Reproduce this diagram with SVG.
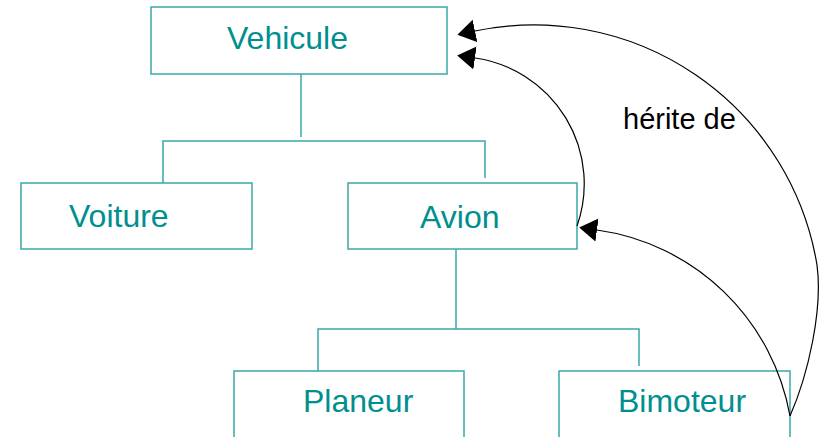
<svg xmlns="http://www.w3.org/2000/svg" width="825" height="437" viewBox="0 0 825 437">
  <style>
    .box { fill: #ffffff; stroke: #3aa8a8; stroke-width: 1.5; }
    .tree { fill: none; stroke: #3aa8a8; stroke-width: 1.5; }
    .label { font-family: "Liberation Sans", Arial, sans-serif; font-size: 32px; fill: #008f8f; }
    .inherit { fill: none; stroke: #000000; stroke-width: 1.2; marker-end: url(#arrow); }
    .note { font-family: "Liberation Sans", Arial, sans-serif; font-size: 29px; fill: #000000; }
  </style>
  <defs>
    <marker id="arrow" markerUnits="userSpaceOnUse" viewBox="0 -12 20 24" markerWidth="20" markerHeight="24" refX="0" refY="0" orient="auto">
      <path d="M0,-11.5 L18,0 L0,11.5 Z" fill="#000000"/>
    </marker>
  </defs>

  <rect width="825" height="437" fill="#ffffff"/>

  <g id="vehicule">
    <rect class="box" x="151" y="7" width="296" height="67"/>
    <text class="label" x="227" y="49">Vehicule</text>
  </g>

  <g id="voiture">
    <rect class="box" x="21" y="183" width="231" height="66"/>
    <text class="label" x="69" y="227">Voiture</text>
  </g>

  <g id="avion">
    <rect class="box" x="348" y="183" width="229" height="66"/>
    <text class="label" x="420" y="228">Avion</text>
  </g>

  <g id="planeur">
    <rect class="box" x="234" y="371" width="230" height="80"/>
    <text class="label" x="303" y="412">Planeur</text>
  </g>

  <g id="bimoteur">
    <rect class="box" x="559" y="371" width="231" height="80"/>
    <text class="label" x="618" y="412">Bimoteur</text>
  </g>

  <!-- tree connectors between classes, then inheritance arcs on top -->
  <g id="connectors">
    <path class="tree" d="M301,74 V137"/>
    <path class="tree" d="M163,183 V141 H485 V178"/>
    <path class="tree" d="M456,249 V329"/>
    <path class="tree" d="M318,371 V329 H639 V366"/>
    <path class="inherit" d="M577,226 A127,127 0 0,0 475,58"/>
    <path class="inherit" d="M790,416 C808,375 823,310 817,265 A287,287 0 0,0 475,31"/>
    <path class="inherit" d="M790,416 A228,228 0 0,0 597,230"/>
    <text class="note" x="623" y="129">hérite de</text>
  </g>
</svg>
